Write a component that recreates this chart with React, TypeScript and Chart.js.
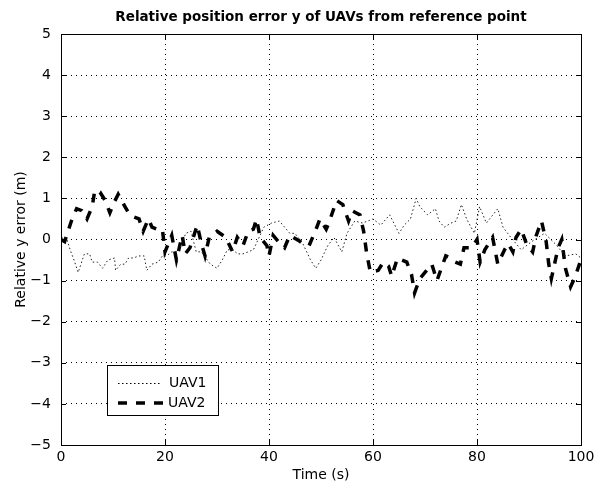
import React, { useEffect, useRef } from "react";
import { Chart, registerables } from "chart.js";

Chart.register(...registerables);

const titleText = "Relative position error y of UAVs from reference point";
const xTitle = "Time (s)";
const yTitle = "Relative y error (m)";
const seriesNames = ["UAV1", "UAV2"];
const xTicks = [0, 20, 40, 60, 80, 100];
const yTicks = [-5, -4, -3, -2, -1, 0, 1, 2, 3, 4, 5];

const uav1Time = [0, 1, 1.9, 2.5, 3.3, 4.5, 5.5, 6, 7, 8, 9, 10.3, 10.5, 11.5, 12.3, 13, 13.9, 15, 16, 16.5, 17.5, 18.7, 19.5, 20.3, 21.3, 22.5, 24, 25, 26, 27, 28.7, 30, 31, 32, 33, 34, 35, 37, 39, 40.5, 42, 44, 45, 46.5, 48, 49, 50, 51.3, 52.5, 54, 55, 56.5, 58, 60, 61.5, 63.2, 65, 66, 67.2, 68.3, 69, 70.5, 72, 72.7, 73.7, 75, 76, 77, 78, 79.5, 80.5, 81.8, 84, 85, 86.5, 88.5, 90.5, 93, 95, 97, 99, 100];
const uav1Y = [0.05, 0.05, -0.3, -0.5, -0.8, -0.35, -0.35, -0.55, -0.55, -0.7, -0.5, -0.45, -0.75, -0.6, -0.6, -0.45, -0.45, -0.4, -0.4, -0.75, -0.6, -0.55, -0.4, -0.4, -0.3, -0.3, 0.15, 0.2, -0.3, -0.3, -0.6, -0.7, -0.5, -0.25, -0.25, -0.35, -0.35, -0.25, 0.3, 0.4, 0.45, 0.15, 0.15, -0.1, -0.5, -0.7, -0.5, -0.15, 0.05, -0.3, 0.15, 0.45, 0.4, 0.5, 0.35, 0.6, 0.15, 0.35, 0.5, 1.0, 0.8, 0.6, 0.75, 0.45, 0.3, 0.4, 0.45, 0.85, 0.5, 0.15, 0.8, 0.4, 0.75, 0.3, 0.05, -0.25, -0.05, 0.15, -0.1, -0.4, -0.35, -0.45];

const uav2Time = [0, 0.7, 2, 3, 4, 5, 6, 6.5, 7.5, 8.5, 9.4, 10.2, 11, 12.3, 13.2, 14, 15, 15.8, 16.8, 17.5, 18.5, 19.5, 20, 21.3, 22.2, 23.3, 23.9, 24.8, 26.2, 27, 27.7, 28.5, 30, 31.7, 33, 33.9, 35, 36, 37, 37.6, 38.3, 39.6, 40, 40.8, 41.8, 43, 44, 46, 46.5, 47.7, 48.9, 49.8, 51, 51.5, 53, 54.2, 55.3, 56, 57.5, 58.2, 58.8, 59.5, 61, 62, 63, 63.6, 64.7, 66.5, 67.4, 68, 69, 70, 71.3, 72.3, 73, 74, 74.9, 75.8, 76.8, 77.5, 79, 80, 80.6, 81.5, 83, 84, 85.3, 86, 86.9, 87.5, 88.5, 89.5, 90.7, 91.4, 92.4, 93.3, 93.8, 94.3, 95.6, 96.3, 97, 98, 98.9, 99.7, 100];
const uav2Y = [0, -0.05, 0.45, 0.75, 0.7, 0.5, 0.8, 1.2, 1.15, 0.95, 0.65, 0.9, 1.1, 0.8, 0.6, 0.55, 0.5, 0.2, 0.5, 0.3, 0.25, 0.25, -0.3, 0.1, -0.5, 0.1, -0.35, -0.2, 0.35, -0.1, -0.4, 0.05, 0.2, 0.05, -0.3, 0.05, -0.15, 0.2, 0.25, 0.5, 0.05, -0.15, -0.4, 0.1, -0.05, -0.2, 0.1, -0.05, -0.1, -0.15, 0.2, 0.5, 0.25, 0.4, 0.95, 0.85, 0.45, 0.7, 0.6, 0.2, -0.35, -0.8, -0.75, -0.55, -0.65, -0.9, -0.45, -0.55, -0.85, -1.3, -0.95, -0.8, -0.6, -1.0, -0.75, -0.4, -0.45, -0.55, -0.6, -0.2, -0.2, 0, -0.55, -0.25, 0.05, -0.6, -0.25, -0.1, -0.3, 0.05, 0.25, -0.1, -0.3, 0.1, 0.45, -0.05, -0.6, -0.95, -0.2, 0, -0.7, -1.15, -0.9, -0.6, -0.5];

const FONT = "'DejaVu Sans', 'Liberation Sans', Arial, sans-serif";

const dash1 = [1.5, 2.5];
const dash2 = [9, 9];

const decorPlugin = {
  id: "decor",
  afterDatasetsDraw(chart: any) {
    const { ctx, chartArea: a, scales } = chart;
    const xs = scales.x;
    const ys = scales.y;
    ctx.save();
    ctx.strokeStyle = "#000";
    ctx.lineWidth = 1;
    ctx.setLineDash([]);
    ctx.strokeRect(Math.round(a.left) + 0.5, Math.round(a.top) + 0.5, Math.round(a.right - a.left), Math.round(a.bottom - a.top));
    const tl = 5;
    ctx.beginPath();
    xTicks.forEach((v) => {
      const px = Math.round(xs.getPixelForValue(v)) + 0.5;
      ctx.moveTo(px, a.bottom);
      ctx.lineTo(px, a.bottom - tl);
      ctx.moveTo(px, a.top);
      ctx.lineTo(px, a.top + tl);
    });
    yTicks.forEach((v) => {
      const py = Math.round(ys.getPixelForValue(v)) + 0.5;
      ctx.moveTo(a.left, py);
      ctx.lineTo(a.left + tl, py);
      ctx.moveTo(a.right, py);
      ctx.lineTo(a.right - tl, py);
    });
    ctx.stroke();

    ctx.fillStyle = "#000";
    ctx.font = `bold 13.5px ${FONT}`;
    ctx.textAlign = "center";
    ctx.textBaseline = "alphabetic";
    ctx.fillText(titleText, (a.left + a.right) / 2, 21);
    ctx.font = `14px ${FONT}`;
    ctx.textBaseline = "middle";
    ctx.fillText(xTitle, (a.left + a.right) / 2, 475);
    ctx.save();
    ctx.translate(21, (a.top + a.bottom) / 2);
    ctx.rotate(-Math.PI / 2);
    ctx.fillText(yTitle, 0, 0);
    ctx.restore();

    const lx = 107.5, ly = 365.5, lw = 111, lh = 50;
    ctx.fillStyle = "#fff";
    ctx.fillRect(lx, ly, lw, lh);
    ctx.strokeStyle = "#000";
    ctx.lineWidth = 1;
    ctx.strokeRect(lx, ly, lw, lh);
    ctx.beginPath();
    ctx.lineWidth = 1;
    ctx.setLineDash(dash1);
    ctx.moveTo(118, 383.5);
    ctx.lineTo(162, 383.5);
    ctx.stroke();
    ctx.beginPath();
    ctx.lineWidth = 3.5;
    ctx.setLineDash(dash2);
    ctx.moveTo(118, 403);
    ctx.lineTo(166, 403);
    ctx.stroke();
    ctx.setLineDash([]);
    ctx.fillStyle = "#000";
    ctx.font = `14px ${FONT}`;
    ctx.textAlign = "left";
    ctx.textBaseline = "middle";
    ctx.fillText(seriesNames[0], 169, 383);
    ctx.fillText(seriesNames[1], 168, 403);
    ctx.restore();
  },
};

export default function App() {
  const ref = useRef<HTMLCanvasElement>(null);
  useEffect(() => {
    if (!ref.current) return;
    const chart = new Chart(ref.current, {
      type: "line",
      data: {
        datasets: [
          {
            label: seriesNames[0],
            data: uav1Time.map((t, i) => ({ x: t, y: uav1Y[i] })),
            borderColor: "#222",
            borderWidth: 1,
            borderDash: dash1,
            pointRadius: 0,
            tension: 0,
            fill: false,
          },
          {
            label: seriesNames[1],
            data: uav2Time.map((t, i) => ({ x: t, y: uav2Y[i] })),
            borderColor: "#000",
            borderWidth: 3.5,
            borderDash: dash2,
            pointRadius: 0,
            tension: 0,
            fill: false,
          },
        ],
      },
      options: {
        animation: false,
        responsive: false,
        maintainAspectRatio: false,
        layout: { padding: { top: 34, right: 25, left: 0, bottom: 0 } },
        plugins: { legend: { display: false }, title: { display: false }, tooltip: { enabled: false } },
        scales: {
          x: {
            type: "linear",
            min: 0,
            max: 100,
            afterBuildTicks: (s: any) => {
              s.ticks = xTicks.map((v) => ({ value: v }));
            },
            afterFit: (s: any) => {
              s.height = 43;
            },
            grid: { color: "#000", lineWidth: 1, drawTicks: false } as any,
            border: { display: false, dash: [1, 4] } as any,
            ticks: { color: "#000", font: { family: FONT, size: 14 }, padding: 4, maxRotation: 0 },
          },
          y: {
            type: "linear",
            min: -5,
            max: 5,
            afterBuildTicks: (s: any) => {
              s.ticks = yTicks.map((v) => ({ value: v }));
            },
            afterFit: (s: any) => {
              s.width = 61;
            },
            grid: { color: "#000", lineWidth: 1, drawTicks: false } as any,
            border: { display: false, dash: [1, 4] } as any,
            ticks: {
              color: "#000",
              font: { family: FONT, size: 14 },
              padding: 10,
              callback: (v: any) => (Number(v) < 0 ? "\u2212" + Math.abs(Number(v)) : String(v)),
            },
          },
        },
      },
      plugins: [decorPlugin],
    });
    return () => chart.destroy();
  }, []);
  return (
    <div style={{ position: "absolute", left: 0, top: 0, width: 606, height: 488, background: "#fff" }}>
      <canvas ref={ref} width={606} height={488} style={{ width: 606, height: 488, display: "block" }} />
    </div>
  );
}
